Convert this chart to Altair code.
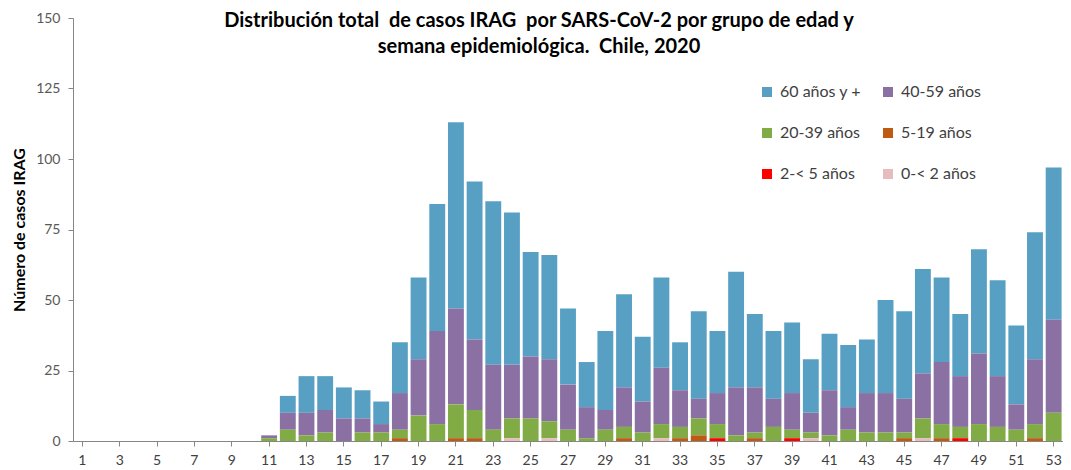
import altair as alt
import pandas as pd

weeks = list(range(1, 54))
odd_weeks = list(range(1, 54, 2))

groups = ["60 años y +", "40-59 años", "20-39 años", "5-19 años", "2-< 5 años", "0-< 2 años"]
colors = ["#58A0C3", "#8B70A3", "#80AB45", "#BE5A12", "#FF0000", "#E6BCBE"]

#           1..10                         11..20                         21..30                          31..40                          41..50                          51..53
age_60p  = [0, 0, 0, 0, 0, 0, 0, 0, 0, 0,  0, 6, 13, 12, 11, 10, 8, 18, 29, 45,  66, 56, 58, 54, 37, 37, 27, 16, 28, 33,  23, 32, 17, 31, 22, 41, 26, 24, 25, 19,  20, 22, 19, 33, 31, 37, 30, 22, 37, 34,  28, 45, 54]
age_40_59 = [0, 0, 0, 0, 0, 0, 0, 0, 0, 0,  1, 6, 8, 8, 8, 5, 3, 13, 20, 33,  34, 25, 23, 19, 22, 22, 16, 11, 7, 14,  11, 20, 13, 7, 11, 17, 16, 10, 13, 7,  16, 8, 14, 14, 12, 16, 22, 18, 25, 18,  9, 23, 33]
age_20_39 = [0, 0, 0, 0, 0, 0, 0, 0, 0, 0,  1, 4, 2, 3, 0, 3, 3, 3, 9, 6,  12, 10, 4, 7, 8, 6, 4, 1, 4, 4,  3, 5, 4, 6, 5, 2, 2, 5, 3, 2,  2, 4, 3, 3, 2, 7, 5, 4, 6, 5,  4, 5, 10]
age_5_19 = [0, 0, 0, 0, 0, 0, 0, 0, 0, 0,  0, 0, 0, 0, 0, 0, 0, 1, 0, 0,  1, 1, 0, 0, 0, 0, 0, 0, 0, 1,  0, 0, 1, 2, 0, 0, 1, 0, 0, 0,  0, 0, 0, 0, 1, 0, 1, 0, 0, 0,  0, 1, 0]
age_2_5 = [0, 0, 0, 0, 0, 0, 0, 0, 0, 0,  0, 0, 0, 0, 0, 0, 0, 0, 0, 0,  0, 0, 0, 0, 0, 0, 0, 0, 0, 0,  0, 0, 0, 0, 1, 0, 0, 0, 1, 0,  0, 0, 0, 0, 0, 0, 0, 1, 0, 0,  0, 0, 0]
age_0_2 = [0, 0, 0, 0, 0, 0, 0, 0, 0, 0,  0, 0, 0, 0, 0, 0, 0, 0, 0, 0,  0, 0, 0, 1, 0, 1, 0, 0, 0, 0,  0, 1, 0, 0, 0, 0, 0, 0, 0, 1,  0, 0, 0, 0, 0, 1, 0, 0, 0, 0,  0, 0, 0]

series = [age_60p, age_40_59, age_20_39, age_5_19, age_2_5, age_0_2]

title_lines = [
    "Distribución total\u00a0 de casos IRAG\u00a0 por SARS-CoV-2 por grupo de edad y",
    "semana epidemiológica.\u00a0 Chile, 2020",
]
y_title = "Número de casos IRAG"

rows = []
for gi, (g, vals) in enumerate(zip(groups, series)):
    for w, v in zip(weeks, vals):
        rows.append({"week": w, "group": g, "value": v, "ord": len(groups) - 1 - gi})
df = pd.DataFrame(rows)

FONT = "Lato"

bars = alt.Chart(df).mark_bar().encode(
    x=alt.X(
        "week:O",
        scale=alt.Scale(domain=weeks, paddingInner=0.15, paddingOuter=0.075),
        axis=alt.Axis(values=odd_weeks, labelAngle=0, title=None, labelFontSize=14,
                      labelColor="#404040", labelPadding=7, tickSize=5),
    ),
    y=alt.Y(
        "value:Q",
        stack="zero",
        scale=alt.Scale(domain=[0, 150], nice=False),
        axis=alt.Axis(values=[0, 25, 50, 75, 100, 125, 150], grid=False, title=y_title,
                      titleFontSize=16, titleFontWeight="bold", titleColor="#000000",
                      titlePadding=8, labelFontSize=14, labelColor="#595959",
                      labelPadding=8, tickSize=5),
    ),
    color=alt.Color(
        "group:N",
        scale=alt.Scale(domain=groups, range=colors),
        legend=alt.Legend(
            title=None, orient="none", legendX=686, legendY=66, columns=2,
            direction="horizontal",
            symbolType="square", symbolSize=100, symbolStrokeWidth=0,
            labelFontSize=16, labelColor="#404040", labelFont=FONT,
            rowPadding=25, columnPadding=18, labelOffset=5,
        ),
    ),
    order=alt.Order("ord:Q", sort="ascending"),
)

t1 = alt.Chart(pd.DataFrame({"t": [title_lines[0]]})).mark_text(
    fontSize=20, fontWeight="bold", font=FONT, color="#000000", align="center", baseline="middle"
).encode(text="t:N", x=alt.value(466), y=alt.value(3))

t2 = alt.Chart(pd.DataFrame({"t": [title_lines[1]]})).mark_text(
    fontSize=20, fontWeight="bold", font=FONT, color="#000000", align="center", baseline="middle"
).encode(text="t:N", x=alt.value(466), y=alt.value(29))

chart = alt.layer(bars, t1, t2).properties(
    width=990, height=423,
    autosize=alt.AutoSizeParams(type="none"),
    padding={"left": 65, "top": 10, "right": 0, "bottom": 27},
).configure_view(stroke=None).configure_axis(
    domainColor="#868686", tickColor="#868686", labelFont=FONT, titleFont=FONT
)

chart.save("out.html", embed_options={"renderer": "svg", "actions": False})
